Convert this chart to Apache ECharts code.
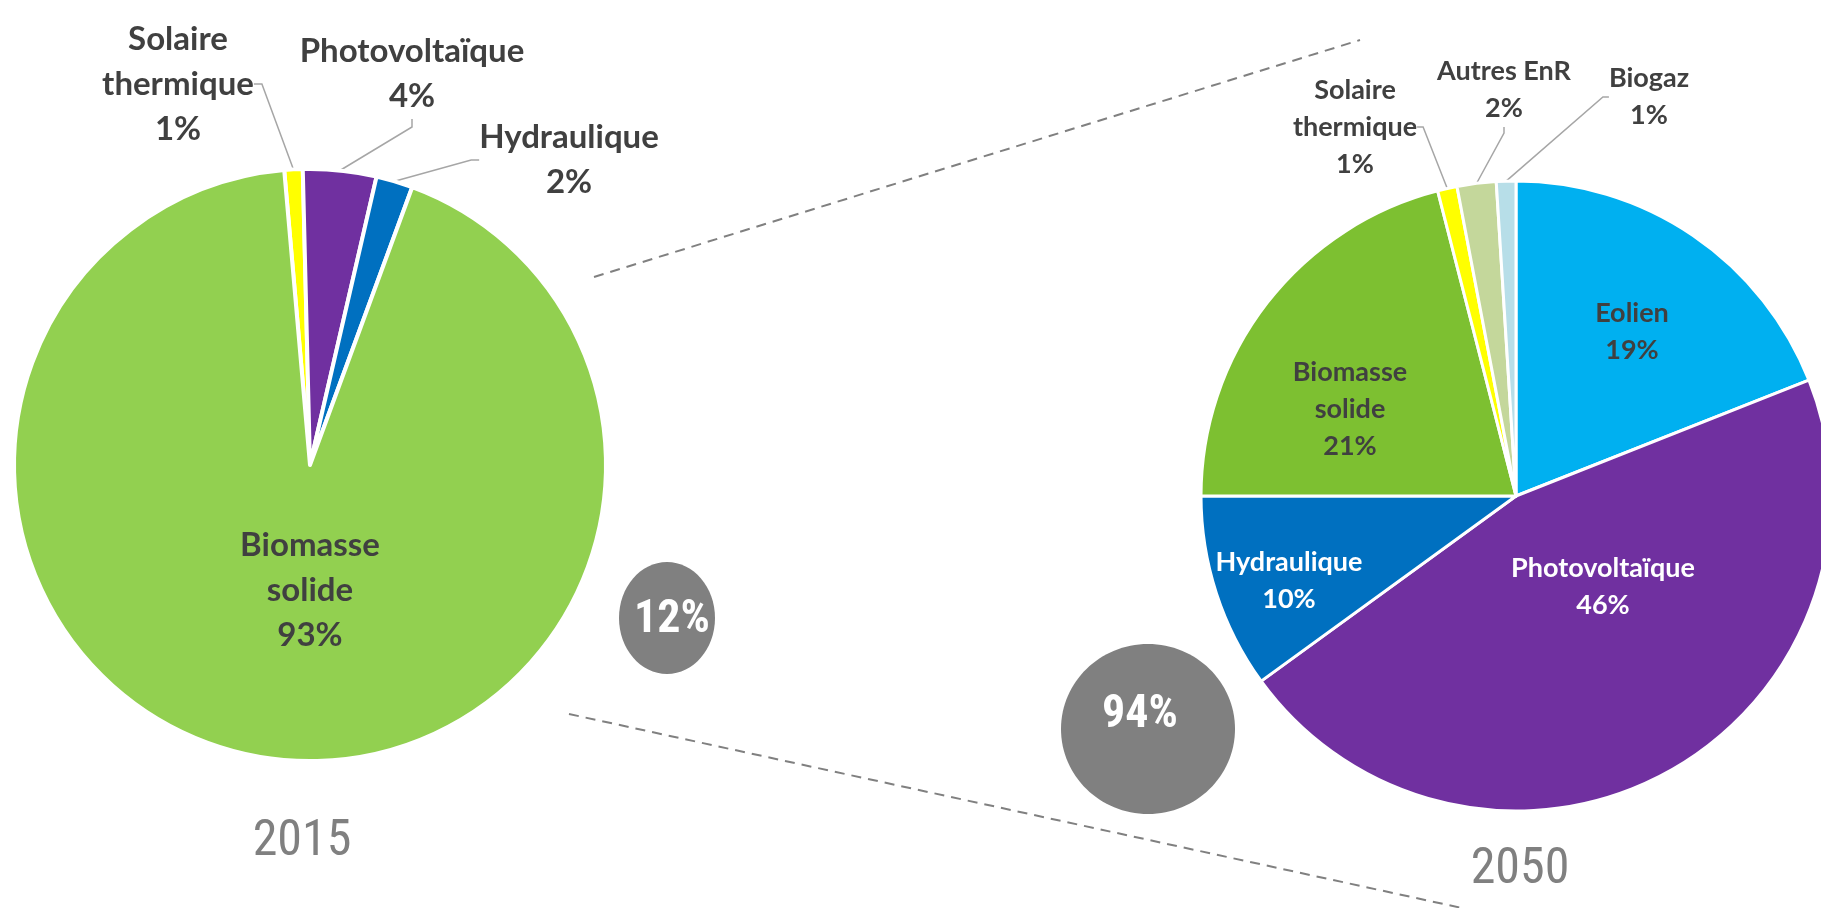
<!DOCTYPE html>
<html><head><meta charset="utf-8">
<script src="https://cdn.jsdelivr.net/npm/echarts@6/dist/echarts.min.js"></script>
<style>html,body{margin:0;padding:0;background:#fff}#c{width:1821px;height:908px}</style>
</head><body><div id="c"></div>
<script>
// ---- data ----
const names2015 = ['Solaire thermique', 'Photovoltaïque', 'Hydraulique', 'Biomasse solide'];
const values2015 = [1, 4, 2, 93];
const names2050 = ['Eolien', 'Photovoltaïque', 'Hydraulique', 'Biomasse solide', 'Solaire thermique', 'Autres EnR', 'Biogaz'];
const values2050 = [19, 46, 10, 21, 1, 2, 1];
const yearLabels = ['2015', '2050'];
const bubbleLabels = ['12%', '94%'];

// ---- styles & layout ----
const colors2015 = ['#FFFF00', '#7030A0', '#0070C0', '#92D050'];
const colors2050 = ['#00B0F0', '#7030A0', '#0070C0', '#7DC031', '#FFFF00', '#C4D79B', '#B7DEE8'];
const layout2015 = {
  'Solaire thermique': {x: 178, y: 84, out: true},
  'Photovoltaïque': {x: 412, y: 74, out: true},
  'Hydraulique': {x: 569, y: 160, out: true},
  'Biomasse solide': {x: 310, y: 590}
};
const layout2050 = {
  'Eolien': {x: 1632, y: 332},
  'Photovoltaïque': {x: 1603, y: 587, color: '#fff'},
  'Hydraulique': {x: 1289, y: 581, color: '#fff'},
  'Biomasse solide': {x: 1350, y: 409},
  'Solaire thermique': {x: 1355, y: 127, out: true},
  'Autres EnR': {x: 1504, y: 90, out: true},
  'Biogaz': {x: 1649, y: 97, out: true}
};
const layouts = [layout2015, layout2050];
const nameLists = [names2015, names2050];

function buildData(names, values, colors, layout) {
  return names.map((n, i) => {
    const L = layout[n];
    return {
      name: n, value: values[i],
      itemStyle: {color: colors[i]},
      label: {position: L.out ? 'outside' : 'inside', color: L.color || '#404040'},
      labelLine: {show: !!L.out}
    };
  });
}
function fmt(p) {
  return p.name.replace('Solaire ', 'Solaire\n').replace('Biomasse ', 'Biomasse\n') + '\n' + p.value + '%';
}
function labelLayout(params) {
  const L = layouts[params.seriesIndex][nameLists[params.seriesIndex][params.dataIndex]];
  return {x: L.x, y: L.y, align: 'center', verticalAlign: 'middle'};
}
const lineStyle = {color: '#A6A6A6', width: 1.5};

const chart = echarts.init(document.getElementById('c'), null, {renderer: 'canvas'});
chart.setOption({
  backgroundColor: '#fff',
  animation: false,
  series: [
    {
      type: 'pie', center: [310, 465], radius: 296, startAngle: 95, clockwise: true,
      avoidLabelOverlap: false, silent: true,
      itemStyle: {borderColor: '#fff', borderWidth: 4},
      label: {formatter: fmt, fontFamily: 'Lato', fontWeight: 'bold', fontSize: 33, lineHeight: 45, textBorderWidth: 0},
      labelLine: {length: 10, length2: 8, lineStyle: lineStyle},
      labelLayout: labelLayout,
      data: buildData(names2015, values2015, colors2015, layout2015)
    },
    {
      type: 'pie', center: [1516, 496], radius: 315, startAngle: 90, clockwise: true,
      avoidLabelOverlap: false, silent: true,
      itemStyle: {borderColor: '#fff', borderWidth: 3},
      label: {formatter: fmt, fontFamily: 'Lato', fontWeight: 'bold', fontSize: 27, lineHeight: 37, textBorderWidth: 0},
      labelLine: {length: 10, length2: 6, lineStyle: lineStyle},
      labelLayout: labelLayout,
      data: buildData(names2050, values2050, colors2050, layout2050)
    }
  ],
  graphic: [
    {type: 'line', shape: {x1: 594, y1: 277, x2: 1360, y2: 40}, style: {stroke: '#808080', lineWidth: 2, lineDash: [10, 7]}},
    {type: 'line', shape: {x1: 569, y1: 714, x2: 1462, y2: 908}, style: {stroke: '#808080', lineWidth: 2, lineDash: [10, 7]}},
    {type: 'ellipse', shape: {cx: 667, cy: 618, rx: 48, ry: 56}, style: {fill: '#808080'}},
    {type: 'ellipse', shape: {cx: 1148, cy: 729, rx: 87, ry: 85}, style: {fill: '#808080'}},
    {type: 'text', x: 672, y: 620, style: {text: bubbleLabels[0], fill: '#fff', font: 'bold 46px "Liberation Sans Narrow", "Roboto Condensed", "DejaVu Sans Condensed", sans-serif', align: 'center', verticalAlign: 'middle'}},
    {type: 'text', x: 1140, y: 715, style: {text: bubbleLabels[1], fill: '#fff', font: 'bold 46px "Liberation Sans Narrow", "Roboto Condensed", "DejaVu Sans Condensed", sans-serif', align: 'center', verticalAlign: 'middle'}},
    {type: 'text', x: 302, y: 842, style: {text: yearLabels[0], fill: '#808080', font: '50px "Liberation Sans Narrow", "Roboto Condensed", "DejaVu Sans Condensed", sans-serif', align: 'center', verticalAlign: 'middle'}},
    {type: 'text', x: 1520, y: 870, style: {text: yearLabels[1], fill: '#808080', font: '50px "Liberation Sans Narrow", "Roboto Condensed", "DejaVu Sans Condensed", sans-serif', align: 'center', verticalAlign: 'middle'}}
  ]
});
</script>
</body></html>
